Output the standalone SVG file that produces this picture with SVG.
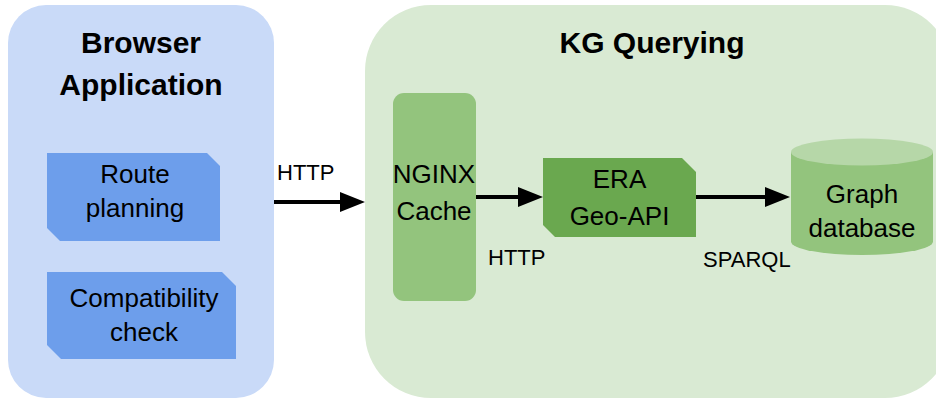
<svg xmlns="http://www.w3.org/2000/svg" width="936" height="400" viewBox="0 0 936 400">
  <style>
    text { font-family: "Liberation Sans", Arial, sans-serif; fill: #000; }
    .title { font-size: 30px; font-weight: bold; text-anchor: middle; }
    .body { font-size: 26px; text-anchor: middle; }
    .label { font-size: 22px; }
    .conn { stroke: #000; stroke-width: 4; fill: none; marker-end: url(#arrow); }
  </style>
  <defs>
    <marker id="arrow" markerUnits="userSpaceOnUse" markerWidth="26" markerHeight="22" refX="3" refY="10" orient="auto">
      <path d="M0,0 L25,10 L0,20 z" fill="#000"/>
    </marker>
  </defs>

  <!-- Browser application panel -->
  <g id="browser-application">
    <rect x="8" y="5" width="266" height="393" rx="38" fill="#c9daf8"/>
    <text class="title" x="141" y="53">Browser</text>
    <text class="title" x="141" y="95">Application</text>
  </g>

  <g id="route-planning">
    <path d="M47,153 H207 L220,166 V241 H60 L47,228 Z" fill="#6d9eeb"/>
    <text class="body" x="135" y="183">Route</text>
    <text class="body" x="135" y="217">planning</text>
  </g>

  <g id="compatibility-check">
    <path d="M47,272 H222 L236,286 V359 H61 L47,345 Z" fill="#6d9eeb"/>
    <text class="body" x="144" y="307">Compatibility</text>
    <text class="body" x="144" y="341">check</text>
  </g>

  <!-- KG querying panel -->
  <g id="kg-querying">
    <rect x="365" y="5" width="586" height="393" rx="66" fill="#d9ead3"/>
    <text class="title" x="652" y="53">KG Querying</text>
  </g>

  <g id="nginx-cache">
    <rect x="393" y="93" width="83" height="208" rx="11" fill="#93c47d"/>
    <text class="body" x="434" y="183">NGINX</text>
    <text class="body" x="434" y="220">Cache</text>
  </g>

  <g id="era-geo-api">
    <path d="M543,158 H682 L696,172 V237 H555 L543,225 Z" fill="#6aa84f"/>
    <text class="body" x="619.5" y="188">ERA</text>
    <text class="body" x="619.5" y="225">Geo-API</text>
  </g>

  <g id="graph-database">
    <path d="M791,152 V241.5 A71,13.5 0 0 0 933,241.5 V152 Z" fill="#93c47d"/>
    <ellipse cx="862" cy="152" rx="71" ry="13.5" fill="#b6d7a8"/>
    <text class="body" x="862" y="203">Graph</text>
    <text class="body" x="862" y="237">database</text>
  </g>

  <!-- Connectors -->
  <g id="connectors">
    <line class="conn" x1="274" y1="202" x2="343" y2="202"/>
    <text class="label" x="277" y="180">HTTP</text>
    <line class="conn" x1="476" y1="197" x2="521" y2="197"/>
    <text class="label" x="488" y="265">HTTP</text>
    <line class="conn" x1="696" y1="197" x2="768" y2="197"/>
    <text class="label" x="703" y="267">SPARQL</text>
  </g>
</svg>
